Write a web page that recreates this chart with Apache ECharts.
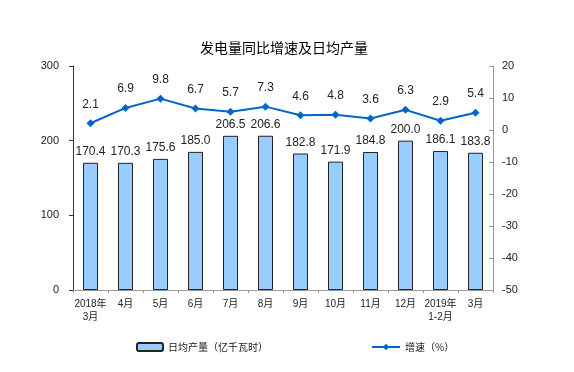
<!DOCTYPE html>
<html><head><meta charset="utf-8">
<script src="https://cdn.jsdelivr.net/npm/echarts@6/dist/echarts.min.js"></script>
<style>html,body{margin:0;padding:0;background:#fff}#c{width:574px;height:372px}</style>
</head><body><div id="c"></div>
<script>
const categories = ['2018年\n3月','4月','5月','6月','7月','8月','9月','10月','11月','12月','2019年\n1-2月','3月'];
const dailyOutput = [170.4,170.3,175.6,185.0,206.5,206.6,182.8,171.9,184.8,200.0,186.1,183.8];
const growthRate = [2.1,6.9,9.8,6.7,5.7,7.3,4.6,4.8,3.6,6.3,2.9,5.4];
const leftTicks = [0,100,200,300];
const rightTicks = [-50,-40,-30,-20,-10,0,10,20];

const FONT = 'Liberation Sans, "Noto Sans CJK SC", sans-serif';
const chart = echarts.init(document.getElementById('c'));
chart.setOption({
  animation:false,
  backgroundColor:'#fff',
  textStyle:{fontFamily:FONT},
  title:{text:'发电量同比增速及日均产量',left:195,top:36,
    textStyle:{fontSize:14,fontWeight:'normal',color:'#000',fontFamily:'"Noto Sans CJK SC", sans-serif'}},
  legend:[
    {data:['日均产量（亿千瓦时）'],left:131,top:337,itemWidth:26,itemHeight:8,itemGap:4,
     textStyle:{fontSize:10,color:'#222',fontFamily:'"Noto Sans CJK SC", sans-serif'}},
    {data:['增速（%）'],left:366,top:337,itemWidth:28,itemHeight:8,
     textStyle:{fontSize:10,color:'#222',fontFamily:'"Noto Sans CJK SC", sans-serif'}}
  ],
  grid:{left:73,right:81,top:66,bottom:82},
  xAxis:{type:'category',data:categories,
    axisLine:{lineStyle:{color:'#999'}},
    axisTick:{show:true,length:3,lineStyle:{color:'#999'}},
    axisLabel:{fontSize:10,color:'#222',margin:8,lineHeight:13,interval:0}},
  yAxis:[
    {type:'value',min:leftTicks[0],max:leftTicks[leftTicks.length-1],interval:100,
     splitLine:{show:false},
     axisLine:{show:true,lineStyle:{color:'#333'}},
     axisTick:{show:true,length:4,lineStyle:{color:'#333'}},
     axisLabel:{fontSize:11,color:'#222',margin:14}},
    {type:'value',min:rightTicks[0],max:rightTicks[rightTicks.length-1],interval:10,
     splitLine:{show:false},
     axisLine:{show:true,lineStyle:{color:'#999'}},
     axisTick:{show:true,inside:true,length:4,lineStyle:{color:'#999'}},
     axisLabel:{fontSize:11,color:'#222',margin:9}}
  ],
  series:[
    {name:'日均产量（亿千瓦时）',type:'bar',data:dailyOutput,barWidth:15,yAxisIndex:0,
     itemStyle:{color:'#99CCFF',borderColor:'#222',borderWidth:1},
     label:{show:true,position:'top',distance:5,fontSize:12,color:'#222',
       formatter:p=>p.value.toFixed(1)}},
    {name:'增速（%）',type:'line',data:growthRate,yAxisIndex:1,
     symbol:'diamond',symbolSize:8,
     lineStyle:{color:'#0066CC',width:2},itemStyle:{color:'#0066CC'},
     label:{show:true,position:'top',distance:9,fontSize:12,color:'#222',
       formatter:p=>p.value.toFixed(1)}}
  ]
});
</script></body></html>
